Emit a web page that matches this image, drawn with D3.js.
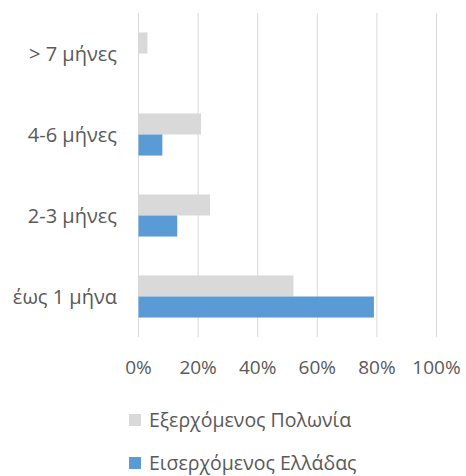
<!DOCTYPE html>
<html>
<head>
<meta charset="utf-8">
<script src="https://cdn.jsdelivr.net/npm/d3@7"></script>
<style>
  html, body { margin: 0; padding: 0; background: #fff; }
  svg { display: block; font-family: "Open Sans", "Noto Sans", sans-serif; }
</style>
</head>
<body>
<svg id="chart" width="466" height="476"></svg>
<script>
// Duration categories, top to bottom
const categories = ["> 7 μήνες", "4-6 μήνες", "2-3 μήνες", "έως 1 μήνα"];
const seriesNames = ["Εξερχόμενος Πολωνία", "Εισερχόμενος Ελλάδας"];
// Share of respondents (%) per category
const outgoingPoland = [3, 21, 24, 52];
const incomingGreece = [0, 8, 13, 79];
const tickValues = [0, 20, 40, 60, 80, 100];
const colors = ["#d9d9d9", "#5b9bd5"];

const svg = d3.select("#chart");
const plot = { left: 138.5, right: 436.5, top: 13, bottom: 337 };

const x = d3.scaleLinear().domain([0, 100]).range([plot.left, plot.right]);
const y = d3.scaleBand().domain(categories).range([plot.top, plot.bottom]).paddingInner(0.48).paddingOuter(0.24);
const ySeries = d3.scaleBand().domain(seriesNames).range([0, y.bandwidth()]);

// Vertical gridlines
svg.append("g")
  .selectAll("line")
  .data(tickValues)
  .join("line")
  .attr("x1", d => x(d)).attr("x2", d => x(d))
  .attr("y1", plot.top).attr("y2", plot.bottom)
  .attr("stroke", "#d9d9d9").attr("stroke-width", 1);

// Bars
const rows = categories.map((c, i) => ({ cat: c, values: [outgoingPoland[i], incomingGreece[i]] }));
const groups = svg.append("g").selectAll("g")
  .data(rows)
  .join("g")
  .attr("transform", d => `translate(0,${y(d.cat)})`);
groups.selectAll("rect")
  .data(d => d.values.map((v, k) => ({ v, k })))
  .join("rect")
  .attr("x", x(0))
  .attr("y", d => ySeries(seriesNames[d.k]))
  .attr("width", d => x(d.v) - x(0))
  .attr("height", ySeries.bandwidth())
  .attr("fill", d => colors[d.k]);

// Category labels
svg.append("g").selectAll("text")
  .data(categories)
  .join("text")
  .attr("x", 117)
  .attr("y", d => y(d) + y.bandwidth() / 2)
  .attr("text-anchor", "end")
  .attr("dominant-baseline", "central")
  .attr("fill", "#595959")
  .attr("font-size", 20)
  .text(d => d);

// X axis tick labels
svg.append("g").selectAll("text")
  .data(tickValues)
  .join("text")
  .attr("x", d => x(d))
  .attr("y", 367)
  .attr("text-anchor", "middle")
  .attr("dominant-baseline", "central")
  .attr("fill", "#595959")
  .attr("font-size", 19)
  .text(d => d + "%");

// Legend
const legend = svg.append("g").selectAll("g")
  .data(seriesNames)
  .join("g")
  .attr("transform", (d, i) => `translate(129,${420 + i * 43})`);
legend.append("rect")
  .attr("x", 0).attr("y", -6).attr("width", 12).attr("height", 12)
  .attr("fill", (d, i) => colors[i]);
legend.append("text")
  .attr("x", 20).attr("y", -1)
  .attr("dominant-baseline", "central")
  .attr("fill", "#595959")
  .attr("font-size", 19.5)
  .text(d => d);
</script>
</body>
</html>
